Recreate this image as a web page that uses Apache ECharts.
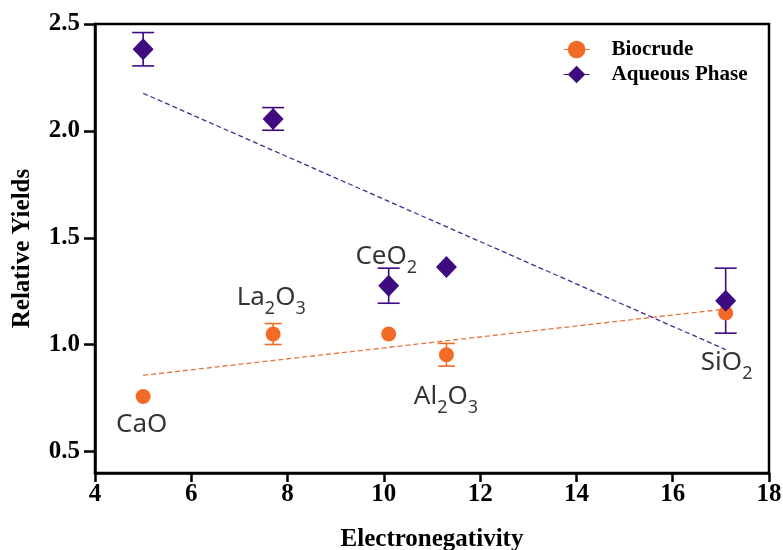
<!DOCTYPE html>
<html><head><meta charset="utf-8">
<script src="https://cdn.jsdelivr.net/npm/echarts@6/dist/echarts.min.js"></script>
<style>html,body{margin:0;padding:0;background:#fff}#c{width:783px;height:550px}</style>
</head><body><div id="c"></div>
<script>
// ---- data ----
const electroneg = [5.0, 7.7, 10.1, 11.3, 17.1];
const biocrude = [0.758, 1.05, 1.05, 0.953, 1.148];
const biocrudeErr = [0, 0.049, 0, 0.053, 0];
const aqueous = [2.382, 2.056, 1.276, 1.364, 1.206];
const aqueousErr = [0.078, 0.053, 0.082, 0, 0.152];
const bioTrendX = [5.0, 17.1];
const bioTrendY = [0.857, 1.167];
const aqTrendX = [5.0, 17.1];
const aqTrendY = [2.176, 0.977];
const yTicks = [0.5, 1.0, 1.5, 2.0, 2.5];
const labelNames = ['CaO', 'La2O3', 'CeO2', 'Al2O3', 'SiO2'];
const labelX = [4.97, 7.66, 10.05, 11.29, 17.12];
const labelY = [0.615, 1.212, 1.403, 0.747, 0.905];

const ORANGE = '#f36a26', PURPLE = '#3e0a80';
const serif = 'Liberation Serif';

function rich(name){
  // turn digits into subscripts
  return name.replace(/([A-Za-z]+)|(\d)/g, (m, a, d) => a ? '{n|' + a + '}' : '{s|' + d + '}');
}

function errSeries(name, ys, errs, color, capW){
  return {
    type: 'custom', name: name + ' err', z: 1, silent: true,
    data: electroneg.map((x, i) => [x, ys[i], errs[i]]).filter(d => d[2] > 0),
    renderItem: function(params, api){
      const x = api.value(0), y = api.value(1), e = api.value(2);
      const top = api.coord([x, y + e]), bot = api.coord([x, y - e]);
      const st = {stroke: color, lineWidth: 1.6};
      return {type: 'group', children: [
        {type: 'line', shape: {x1: top[0], y1: top[1], x2: bot[0], y2: bot[1]}, style: st},
        {type: 'line', shape: {x1: top[0]-capW/2, y1: top[1], x2: top[0]+capW/2, y2: top[1]}, style: st},
        {type: 'line', shape: {x1: bot[0]-capW/2, y1: bot[1], x2: bot[0]+capW/2, y2: bot[1]}, style: st}
      ]};
    }
  };
}

const chart = echarts.init(document.getElementById('c'), null, {renderer: 'canvas'});
chart.setOption({
  animation: false,
  grid: {left: 95, right: 14, top: 24, bottom: 77, containLabel: false, outerBoundsMode: 'none',
    show: true, borderColor: '#000', borderWidth: 2.5, backgroundColor: 'transparent'},
  legend: {
    left: 558, top: 34, orient: 'vertical', itemGap: 4, itemWidth: 26, itemHeight: 22,
    textStyle: {fontFamily: serif, fontWeight: 'bold', fontSize: 21, color: '#000', padding: [0, 0, 0, 17]},
    data: [
      {name: 'Biocrude', lineStyle: {opacity: 1, width: 1.2, type: 'dashed', color: ORANGE}},
      {name: 'Aqueous Phase', lineStyle: {opacity: 1, width: 1.2, type: 'dashed', color: PURPLE}}
    ]
  },
  xAxis: {
    type: 'value', min: 4, max: 18, interval: 2,
    name: 'Electronegativity', nameLocation: 'middle', nameGap: 54,
    nameTextStyle: {fontFamily: serif, fontWeight: 'bold', fontSize: 25, color: '#000'},
    axisLine: {onZero: false, lineStyle: {color: '#000', width: 2.5}},
    axisTick: {length: 9, lineStyle: {color: '#000', width: 2.5}},
    axisLabel: {margin: 9, fontFamily: serif, fontWeight: 'bold', fontSize: 25, color: '#000'},
    splitLine: {show: false}
  },
  yAxis: {
    type: 'value', min: 0.4, max: 2.5,
    name: 'Relative Yields', nameLocation: 'middle', nameGap: 60,
    nameTextStyle: {fontFamily: serif, fontWeight: 'bold', fontSize: 25, color: '#000'},
    axisLine: {onZero: false, lineStyle: {color: '#000', width: 2.5}},
    axisTick: {length: 11, customValues: yTicks, lineStyle: {color: '#000', width: 2.5}},
    axisLabel: {margin: 15, customValues: yTicks, fontFamily: serif, fontWeight: 'bold', fontSize: 25, color: '#000',
      formatter: v => v.toFixed(1)},
    splitLine: {show: false}
  },
  series: [
    {
      type: 'line', name: 'Biocrude', z: 5,
      data: electroneg.map((x, i) => [x, biocrude[i]]),
      symbol: 'circle', symbolSize: 15, showAllSymbol: true,
      itemStyle: {color: ORANGE}, lineStyle: {opacity: 0, width: 0},
      emphasis: {disabled: true}
    },
    {
      type: 'line', name: 'Aqueous Phase', z: 6,
      data: electroneg.map((x, i) => [x, aqueous[i]]),
      symbol: 'diamond', symbolSize: [21, 22], showAllSymbol: true,
      itemStyle: {color: PURPLE}, lineStyle: {opacity: 0, width: 0},
      emphasis: {disabled: true}
    },
    errSeries('Biocrude', biocrude, biocrudeErr, ORANGE, 17),
    errSeries('Aqueous Phase', aqueous, aqueousErr, PURPLE, 22),
    {
      type: 'line', name: 'bioTrend', z: 3, symbol: 'none', silent: true,
      data: bioTrendX.map((x, i) => [x, bioTrendY[i]]),
      lineStyle: {color: '#e8733a', width: 1.3, type: [5, 3]}
    },
    {
      type: 'line', name: 'aqTrend', z: 3, symbol: 'none', silent: true,
      data: aqTrendX.map((x, i) => [x, aqTrendY[i]]),
      lineStyle: {color: '#4a2a8c', width: 1.3, type: [5, 3]}
    },
    {
      type: 'scatter', name: 'labels', z: 10, silent: true, symbolSize: 0,
      data: labelNames.map((n, i) => ({value: [labelX[i], labelY[i]], name: n})),
      label: {
        show: true, position: 'inside',
        formatter: p => rich(p.name),
        rich: {
          n: {fontFamily: 'Noto Sans', fontSize: 26, color: '#000', lineHeight: 30, verticalAlign: 'top'},
          s: {fontFamily: 'Noto Sans', fontSize: 18, color: '#000', lineHeight: 18, padding: [15, 0, 0, 0], verticalAlign: 'top'}
        }
      }
    }
  ]
});
</script></body></html>
